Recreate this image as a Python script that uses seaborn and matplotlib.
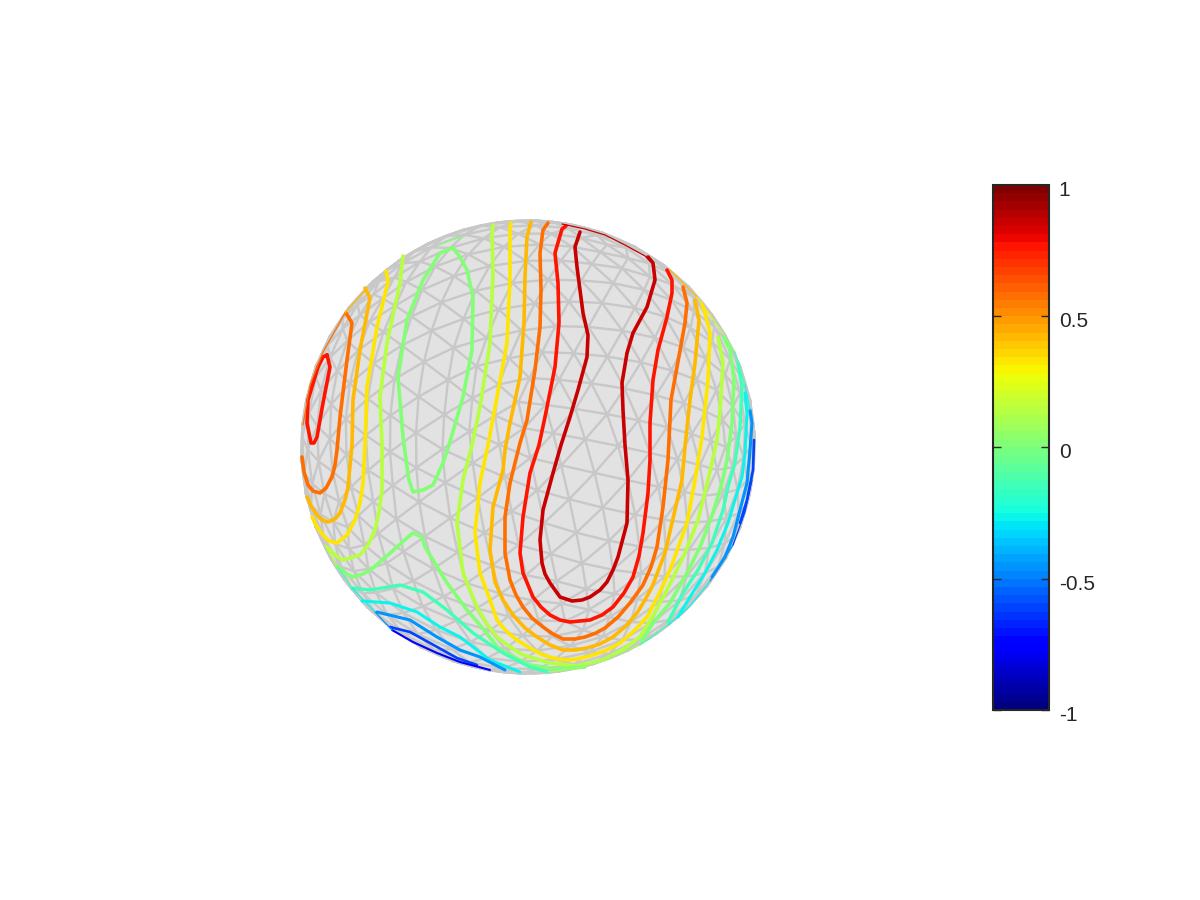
import numpy as np
import matplotlib
matplotlib.use('Agg')
import matplotlib.pyplot as plt
import matplotlib.tri as mtri
from matplotlib.patches import Circle
from matplotlib.transforms import ScaledTranslation
import seaborn as sns

# contour lines, in pixels: (x, y)
deep_red_main = [(580, 232), (575, 247), (577, 267), (580, 290), (583, 313), (588, 335), (587, 357), (578, 390),
                 (570, 417), (561, 445), (553, 473), (543, 510), (540, 540), (542, 563), (545, 574), (550, 583),
                 (560, 597), (572, 601), (582, 600), (590, 597), (600, 590), (607, 582), (613, 570), (618, 557),
                 (627, 523), (628, 480), (625, 445), (623, 410), (622, 383), (627, 353), (633, 333), (647, 307),
                 (655, 280), (653, 263), (648, 257)]
red_main = [(566, 226), (562, 229), (555, 253), (558, 283), (559, 323), (555, 367), (545, 417), (539, 445),
            (530, 473), (523, 517), (520, 553), (523, 573), (533, 597), (541, 607), (550, 615), (560, 620),
            (570, 622), (590, 620), (602, 615), (613, 607), (624, 593), (633, 577), (639, 556), (643, 533),
            (648, 493), (650, 460), (650, 423), (653, 380), (658, 350), (667, 317), (672, 293), (672, 280),
            (667, 270)]
red_left = [(327, 355), (330, 367), (323, 403), (317, 437), (314, 443), (311, 443), (307, 423), (308, 400),
            (318, 367), (323, 357), (327, 355)]
dark_orange_main = [(548, 223), (543, 230), (540, 253), (541, 290), (540, 327), (535, 370), (527, 420), (520, 443),
                    (510, 483), (505, 517), (505, 553), (510, 580), (516, 595), (523, 607), (532, 618), (543, 627),
                    (553, 634), (563, 639), (575, 639), (585, 637), (596, 633), (605, 628), (618, 617), (630, 603),
                    (643, 585), (651, 567), (657, 547), (663, 507), (668, 460), (671, 400), (677, 367),
                    (685, 323), (687, 303), (683, 287)]
dark_orange_left = [(346, 313), (352, 323), (347, 360), (340, 417), (337, 450), (335, 465), (332, 477), (326, 488),
                    (320, 493), (313, 491), (308, 485), (304, 472), (302, 457)]
orange_main = [(531, 222), (527, 237), (525, 277), (524, 323), (520, 377), (510, 423), (505, 450), (503, 470),
               (493, 507), (490, 550), (495, 582), (503, 600), (513, 615), (525, 628), (537, 637), (550, 645),
               (563, 650), (575, 650), (587, 648), (600, 644), (613, 637), (626, 626), (637, 613), (645, 600),
               (652, 587), (665, 553), (675, 510), (682, 480), (685, 447), (690, 400), (695, 363),
               (699, 320), (695, 300)]
orange_left = [(365, 288), (370, 298), (360, 350), (353, 400), (352, 445), (348, 487), (345, 500), (340, 513),
               (335, 519), (328, 522), (322, 520), (317, 515), (311, 506), (307, 497)]
yellow_main = [(511, 223), (510, 230), (510, 277), (507, 343), (497, 397), (488, 445), (480, 483), (475, 533),
               (480, 573), (490, 600), (497, 620), (506, 631), (517, 640), (530, 648), (543, 655), (557, 659),
               (570, 660), (582, 658), (593, 655), (607, 650), (620, 643), (634, 631), (647, 617), (659, 594),
               (670, 570), (687, 523), (695, 480), (702, 437), (708, 380), (710, 333), (705, 313), (702, 304)]
yellow_left = [(386, 271), (388, 282), (377, 327), (367, 387), (365, 445), (363, 483), (360, 503), (355, 520),
               (347, 535), (337, 543), (329, 541), (323, 535), (317, 527), (312, 517)]
lime_main = [(493, 225), (492, 233), (493, 273), (490, 343), (480, 407), (472, 445), (463, 480), (457, 523),
             (463, 573), (477, 607), (487, 624), (497, 637), (510, 647), (523, 655), (550, 663), (577, 666),
             (603, 660), (622, 650), (640, 637), (654, 614), (667, 590), (685, 553), (698, 520), (708, 480),
             (717, 440), (720, 410), (723, 363), (718, 337)]
lime_left = [(403, 256), (400, 283), (387, 343), (380, 397), (382, 445), (382, 490), (379, 512), (375, 530),
             (368, 545), (360, 555), (343, 560), (335, 555), (327, 547)]
green_loop = [(453, 248), (460, 257), (467, 270), (473, 297), (472, 350), (463, 397), (449, 445), (443, 463),
              (433, 485), (423, 490), (413, 492), (409, 480), (407, 467), (403, 437), (398, 377), (407, 320),
              (423, 280), (440, 253), (453, 248)]
green_top = [(440, 244), (452, 240), (465, 236)]
green_low = [(337, 566), (345, 573), (353, 577), (363, 574), (373, 568), (397, 547), (408, 537), (413, 533),
             (422, 537), (425, 547), (433, 560), (447, 583), (467, 610), (480, 625), (500, 650), (530, 665),
             (557, 669), (585, 667)]
green_right = [(642, 641), (653, 623), (670, 603), (687, 573), (700, 547), (713, 513), (722, 483), (727, 460),
               (732, 423), (734, 380), (730, 350), (724, 338)]
aqua_left = [(352, 588), (370, 590), (400, 585), (423, 592), (447, 610), (473, 633), (503, 653), (530, 667), (548, 672)]
aqua_right = [(668, 622), (683, 593), (698, 570), (712, 543), (723, 510), (728, 487), (735, 463), (740, 427),
              (742, 387), (738, 363)]
cyan_left = [(362, 601), (390, 603), (417, 612), (440, 627), (460, 637), (490, 660), (520, 672)]
cyan_right = [(678, 617), (690, 597), (705, 573), (717, 550), (728, 523), (737, 493), (742, 477), (745, 453),
              (747, 413), (745, 393)]
azure_left = [(377, 612), (410, 620), (437, 637), (460, 650), (480, 657), (505, 670)]
azure_right = [(712, 577), (725, 557), (733, 537), (740, 510), (747, 483), (750, 450), (752, 423), (750, 410)]
blue_left = [(390, 627), (410, 632), (430, 643), (457, 658), (477, 665)]
blue_right = [(740, 523), (747, 500), (753, 470), (754, 440)]
navy_left = [(392, 630), (413, 642), (437, 653), (460, 662), (490, 670)]

contours = [(0.87, deep_red_main), (0.78, red_main), (0.78, red_left), (0.58, dark_orange_main),
            (0.58, dark_orange_left), (0.42, orange_main), (0.42, orange_left), (0.32, yellow_main), (0.32, yellow_left),
            (0.13, lime_main), (0.13, lime_left), (0.0, green_loop), (0.0, green_low), (0.0, green_right),
            (-0.15, aqua_left), (-0.15, aqua_right), (-0.28, cyan_left), (-0.28, cyan_right),
            (-0.45, azure_left), (-0.45, azure_right), (-0.6, blue_left), (-0.6, blue_right), (-0.78, navy_left)]

# thin pieces of the same lines where they run along the rim
rim_top = [(562, 224), (585, 229), (605, 235), (625, 245), (645, 256), (650, 261)]
rim_orange = [(670, 270), (685, 285), (697, 297)]
rim_yellow = [(697, 297), (712, 318)]
rim_lime = [(712, 318), (724, 335)]
rim_green = [(724, 335), (735, 352)]
rim_aqua = [(735, 352), (745, 385)]
rim_cyan = [(745, 385), (750, 410)]
rim_upper_left = [(303, 425), (310, 385), (323, 352), (345, 313)]
rim_upper_orange = [(345, 313), (365, 290)]
rim_low_lime = [(325, 545), (337, 566)]
rim_low_aqua = [(337, 566), (352, 588)]
rim_low_cyan = [(352, 588), (375, 612)]
rim_low_azure = [(375, 612), (392, 630)]
rim_bottom = [(548, 672), (575, 669), (600, 661), (640, 645)]
rim_right_aqua = [(640, 645), (668, 625)]
rim_right_cyan = [(668, 625), (690, 606), (710, 581)]
rim_right_azure = [(710, 581), (733, 545)]
rim_right_blue = [(733, 545), (745, 512), (752, 480)]

rims = [(0.85, rim_top), (0.42, rim_orange), (0.32, rim_yellow), (0.13, rim_lime), (0.0, rim_green), (-0.15, rim_aqua),
        (-0.28, rim_cyan), (0.58, rim_upper_left), (0.42, rim_upper_orange), (0.13, rim_low_lime), (-0.15, rim_low_aqua),
        (-0.28, rim_low_cyan), (-0.45, rim_low_azure), (0.08, rim_bottom), (-0.15, rim_right_aqua),
        (-0.28, rim_right_cyan), (-0.45, rim_right_azure), (-0.6, rim_right_blue), (0.0, green_top)]

cbar_ticks = [-1, -0.5, 0, 0.5, 1]
cbar_labels = ['-1', '-0.5', '0', '0.5', '1']
center = (528, 447)
radius = 227


def sphere_mesh(freq=8):
    # subdivided icosahedron, turned a bit so it does not sit on a symmetry axis
    t = (1 + 5 ** 0.5) / 2
    v = np.array([[-1, t, 0], [1, t, 0], [-1, -t, 0], [1, -t, 0], [0, -1, t], [0, 1, t],
                  [0, -1, -t], [0, 1, -t], [t, 0, -1], [t, 0, 1], [-t, 0, -1], [-t, 0, 1]], float)
    faces = [(0, 11, 5), (0, 5, 1), (0, 1, 7), (0, 7, 10), (0, 10, 11), (1, 5, 9), (5, 11, 4), (11, 10, 2), (10, 7, 6),
             (7, 1, 8), (3, 9, 4), (3, 4, 2), (3, 2, 6), (3, 6, 8), (3, 8, 9), (4, 9, 5), (2, 4, 11), (6, 2, 10),
             (8, 6, 7), (9, 8, 1)]
    pts, tris, seen = [], [], {}

    def node(p):
        p = p / np.linalg.norm(p)
        key = tuple(np.round(p, 6))
        if key not in seen:
            seen[key] = len(pts)
            pts.append(p)
        return seen[key]

    for a, b, c in faces:
        idx = {}
        for i in range(freq + 1):
            for j in range(freq + 1 - i):
                k = freq - i - j
                idx[i, j] = node((i * v[a] + j * v[b] + k * v[c]) / freq)
        for i in range(freq):
            for j in range(freq - i):
                tris.append((idx[i, j], idx[i + 1, j], idx[i, j + 1]))
                if i + j < freq - 1:
                    tris.append((idx[i + 1, j], idx[i + 1, j + 1], idx[i, j + 1]))
    pts = np.array(pts)
    a1, a2 = np.radians(20), np.radians(12)
    rx = np.array([[1, 0, 0], [0, np.cos(a1), -np.sin(a1)], [0, np.sin(a1), np.cos(a1)]])
    rz = np.array([[np.cos(a2), -np.sin(a2), 0], [np.sin(a2), np.cos(a2), 0], [0, 0, 1]])
    return pts @ rx.T @ rz.T, np.array(tris)


sns.set_theme(style='white')
plt.rcParams['font.family'] = ['Liberation Sans', 'DejaVu Sans']

fig = plt.figure(figsize=(12, 9), dpi=100)
ax = fig.add_axes([0, 0, 1, 1])
ax.set_xlim(0, 1200)
ax.set_ylim(900, 0)
ax.axis('off')

ax.add_patch(Circle(center, radius, facecolor='#e2e2e2', edgecolor='#c8c8c8', linewidth=1, zorder=1))

pts, tris = sphere_mesh()
visible = tris[(pts[tris, 2] > 0).any(axis=1)]
mesh = mtri.Triangulation(center[0] + radius * pts[:, 0], center[1] - radius * pts[:, 1], visible)
ax.triplot(mesh, color='#c8c8c8', linewidth=1.7, zorder=2)

jet = plt.get_cmap('jet', 64)
# lines get thinner as they come close to the rim
widths = {-0.15: 2.4, -0.28: 2.2, -0.45: 2.2, -0.6: 1.9, -0.78: 1.5}
for level, line in contours:
    xy = np.array(line)
    sns.lineplot(x=xy[:, 0], y=xy[:, 1], sort=False, estimator=None, color=jet((level + 1) / 2),
                 linewidth=widths.get(level, 2.6), ax=ax, zorder=3)
for level, line in rims:
    xy = np.array(line)
    sns.lineplot(x=xy[:, 0], y=xy[:, 1], sort=False, estimator=None, color=jet((level + 1) / 2),
                 linewidth=0.9, ax=ax, zorder=3)

ax.set_xlim(0, 1200)
ax.set_ylim(900, 0)
ax.set_xlabel('')
ax.set_ylabel('')

# colorbar
cax = fig.add_axes([993 / 1200, 190 / 900, 56 / 1200, 525 / 900])
sm = plt.cm.ScalarMappable(norm=plt.Normalize(-1, 1), cmap=jet)
cbar = fig.colorbar(sm, cax=cax, ticks=cbar_ticks)
cbar.ax.set_yticklabels(cbar_labels)
cbar.ax.set_axisbelow(False)
cbar.ax.tick_params(direction='in', left=True, right=True, length=5.5, width=1, color='#262626',
                    labelsize=15, labelcolor='#262626', pad=7)
cbar.outline.set_edgecolor('#262626')
cbar.outline.set_linewidth(1.5)
shift = ScaledTranslation(0, -3.5 / 100, fig.dpi_scale_trans)
for lab in cbar.ax.get_yticklabels():
    lab.set_transform(lab.get_transform() + shift)

fig.savefig('out.png', dpi=100)
